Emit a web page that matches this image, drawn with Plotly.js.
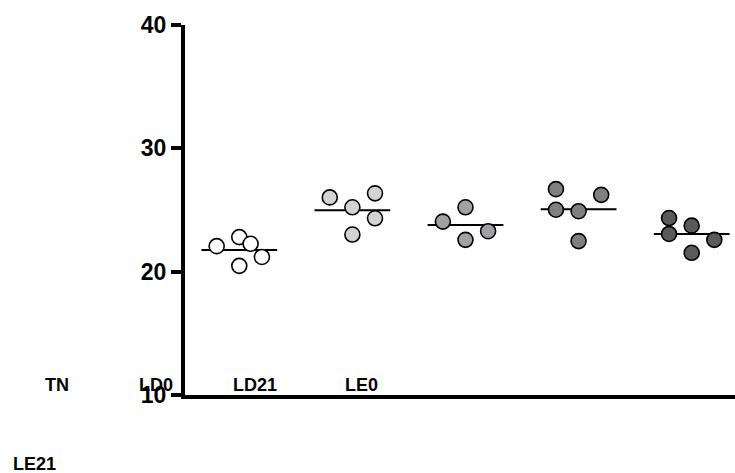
<!DOCTYPE html>
<html>
<head>
<meta charset="utf-8">
<script src="https://cdn.plot.ly/plotly-3.0.1.min.js"></script>
<style>html,body{margin:0;padding:0;background:#fff;}#chart{width:735px;height:473px;}</style>
</head>
<body>
<div id="chart"></div>
<script>
// Group names (as printed, misplaced, in the reference)
var groupNames = ["TN", "LD0", "LD21", "LE0", "LE21"];
// Values per group
var valuesTN   = [22.07, 22.80, 22.26, 21.19, 20.47];
var valuesLD0  = [26.02, 25.22, 26.35, 24.33, 23.01];
var valuesLD21 = [24.06, 25.22, 22.58, 23.28];
var valuesLE0  = [26.69, 25.02, 24.90, 26.23, 22.48];
var valuesLE21 = [24.35, 23.06, 23.73, 22.58, 21.53];
// Horizontal scatter (jitter) per point, in category units
var jitterTN   = [-0.2, 0, 0.1, 0.2, 0];
var jitterLD0  = [-0.2, 0, 0.2, 0.2, 0];
var jitterLD21 = [-0.2, 0, 0, 0.2];
var jitterLE0  = [-0.2, -0.2, 0, 0.2, 0];
var jitterLE21 = [-0.2, -0.2, 0, 0.2, 0];
var fillColors = ["#ffffff", "#d3d3d3", "#a1a1a4", "#808080", "#5a5a5a"];
var yTicks = [10, 20, 30, 40];

var groups = [valuesTN, valuesLD0, valuesLD21, valuesLE0, valuesLE21];
var jitters = [jitterTN, jitterLD0, jitterLD21, jitterLE0, jitterLE21];

var traces = [];
groups.forEach(function(vals, i) {
  var m = vals.reduce(function(a, b) { return a + b; }, 0) / vals.length;
  traces.push({
    type: "scatter", mode: "lines",
    x: [i - 0.335, i + 0.335], y: [m, m],
    line: {color: "#000", width: 2},
    hoverinfo: "skip", showlegend: false
  });
  traces.push({
    type: "scatter", mode: "markers",
    x: jitters[i].map(function(d) { return i + d; }), y: vals,
    name: groupNames[i],
    marker: {size: 15, color: fillColors[i], line: {color: "#000", width: 1.6}},
    showlegend: false
  });
});

var W = 735, H = 473, L = 185, R = 0, T = 25, B = 78;
var pw = W - L - R, ph = H - T - B;
var labelPos = [[56.7, 385], [156, 385], [255, 385], [361, 385], [34, 464]];
var annotations = groupNames.map(function(n, i) {
  return {
    text: "<b>" + n + "</b>", xref: "paper", yref: "paper",
    x: (labelPos[i][0] - L) / pw, y: (H - B - labelPos[i][1]) / ph,
    xanchor: "center", yanchor: "middle", showarrow: false,
    font: {family: "Liberation Sans, Arial, sans-serif", size: 18, color: "#000"}
  };
});

var layout = {
  width: W, height: H,
  margin: {l: L, r: R, t: T, b: B, pad: 0},
  paper_bgcolor: "#fff", plot_bgcolor: "#fff",
  showlegend: false,
  xaxis: {
    range: [-0.48, 4.383], showgrid: false, zeroline: false,
    showticklabels: false, ticks: "",
    showline: true, linecolor: "#000", linewidth: 4
  },
  yaxis: {
    range: [10, 40], tickvals: yTicks, ticktext: yTicks.map(String),
    showgrid: false, zeroline: false,
    showline: true, linecolor: "#000", linewidth: 4,
    ticks: "outside", ticklen: 10, tickwidth: 4, tickcolor: "#000",
    tickfont: {family: "Liberation Sans, Arial, sans-serif", size: 23, color: "#000", weight: "bold"}
  },
  annotations: annotations
};

Plotly.newPlot("chart", traces, layout, {displayModeBar: false, staticPlot: true});
</script>
</body>
</html>
